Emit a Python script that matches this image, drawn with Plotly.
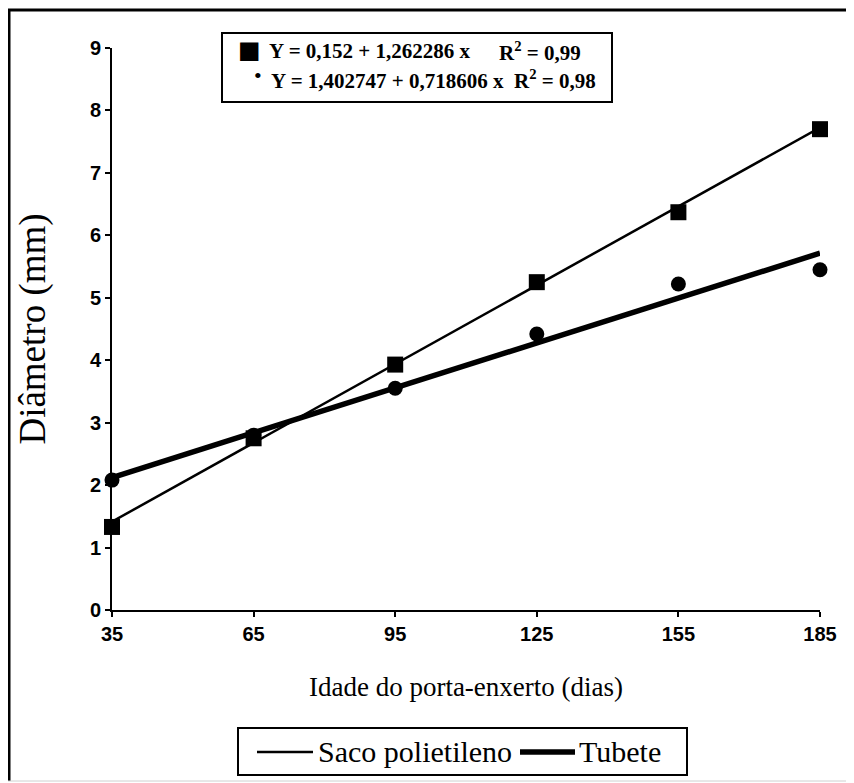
import plotly.graph_objects as go

# Data
idade_labels = ["35", "65", "95", "125", "155", "185"]
x_idx = [1, 2, 3, 4, 5, 6]
saco_obs = [1.33, 2.75, 3.93, 5.25, 6.37, 7.70]
tubete_obs = [2.08, 2.80, 3.55, 4.42, 5.22, 5.45]
saco_coef = (0.152, 1.262286)
tubete_coef = (1.402747, 0.718606)
series_names = ["Saco polietileno", "Tubete"]

saco_fit = [saco_coef[0] + saco_coef[1] * x for x in x_idx]
tubete_fit = [tubete_coef[0] + tubete_coef[1] * x for x in x_idx]

# page body has an 8px margin; work in reference-image pixels and shift
OFF = 8
W, H = 854 - OFF, 783 - OFF
X0, X1 = 112, 820      # reference px of first / last category
Y0, Y9 = 610, 48       # reference px of y=0 / y=9
L = X0 - OFF
R = W - (X1 - OFF)
T = Y9 - OFF
B = H - (Y0 - OFF)
PW, PH = W - L - R, H - T - B

def px(x):
    return (x - X0) / PW

def py(y):
    return (Y0 - y) / PH

serif = "Liberation Serif"

fig = go.Figure()
fig.add_trace(go.Scatter(x=x_idx, y=saco_fit, mode="lines", name=series_names[0], showlegend=False,
                         line=dict(color="black", width=2.5), cliponaxis=False))
fig.add_trace(go.Scatter(x=x_idx, y=tubete_fit, mode="lines", name=series_names[1], showlegend=False,
                         line=dict(color="black", width=5.5), cliponaxis=False))
fig.add_trace(go.Scatter(x=x_idx, y=saco_obs, mode="markers", showlegend=False,
                         marker=dict(symbol="square", size=16, color="black"), cliponaxis=False))
fig.add_trace(go.Scatter(x=x_idx, y=tubete_obs, mode="markers", showlegend=False,
                         marker=dict(symbol="circle", size=15, color="black"), cliponaxis=False))

def pline(x0, y0, x1, y1, width, color="black"):
    return dict(type="line", xref="paper", yref="paper", x0=px(x0), x1=px(x1),
                y0=py(y0), y1=py(y1), line=dict(color=color, width=width))

shapes = [
    # outer frame
    pline(9, 9, 9, 781, 3),
    pline(8, 10, 870, 10, 3),
    pline(8, 781, 870, 781, 1, "#d0d0d0"),
    # equation box
    dict(type="rect", xref="paper", yref="paper", x0=px(222), x1=px(612), y0=py(33), y1=py(102),
         line=dict(color="black", width=2), fillcolor="white"),
    # bottom legend box and samples
    dict(type="rect", xref="paper", yref="paper", x0=px(238), x1=px(687), y0=py(728), y1=py(775),
         line=dict(color="black", width=2), fillcolor="white"),
    pline(257, 752, 313, 752, 2.5),
    pline(520, 752, 575, 752, 5.5),
]

eqfont = dict(family=serif, size=21, color="black", weight="bold")
legfont = dict(family=serif, size=30, color="black")

def ann(text, x, y, font, xanchor="left"):
    return dict(text=text, x=px(x), y=py(y), xref="paper", yref="paper", showarrow=False,
                xanchor=xanchor, yanchor="middle", font=font)

annotations = [
    ann("■", 249, 50, dict(family="DejaVu Sans", size=24, color="black"), "center"),
    ann("Y = 0,152 + 1,262286 x", 267, 51, eqfont),
    ann("R<sup>2</sup> = 0,99", 497, 51, eqfont),
    ann("•", 258, 75, dict(family=serif, size=22, color="black"), "center"),
    ann("Y = 1,402747 + 0,718606 x  R<sup>2</sup> = 0,98", 269, 79, eqfont),
    ann(series_names[0], 316, 751, legfont),
    ann(series_names[1], 577, 751, legfont),
]

fig.update_layout(
    width=W, height=H,
    margin=dict(l=L, r=R, t=T, b=B, autoexpand=False),
    paper_bgcolor="white", plot_bgcolor="white",
    shapes=shapes, annotations=annotations,
    showlegend=False,
    xaxis=dict(range=[1, 6], tickmode="array", tickvals=x_idx, ticktext=idade_labels,
               showgrid=False, zeroline=False, showline=True, linecolor="black", linewidth=2,
               ticks="outside", ticklen=5, tickcolor="black", tickwidth=1.5,
               tickfont=dict(family="Liberation Sans", size=20, color="black", weight="bold"),
               title=dict(text="Idade do porta-enxerto (dias)", standoff=33,
                          font=dict(family=serif, size=27, color="black"))),
    yaxis=dict(range=[0, 9], dtick=1, showgrid=False, zeroline=False, showline=True,
               linecolor="black", linewidth=2, ticks="outside", ticklen=5, tickcolor="black",
               tickwidth=1.5,
               tickfont=dict(family="Liberation Sans", size=20, color="black", weight="bold"),
               title=dict(text="Diâmetro (mm)", standoff=33,
                          font=dict(family=serif, size=37, color="black"))),
)

fig.write_html("out.html")
